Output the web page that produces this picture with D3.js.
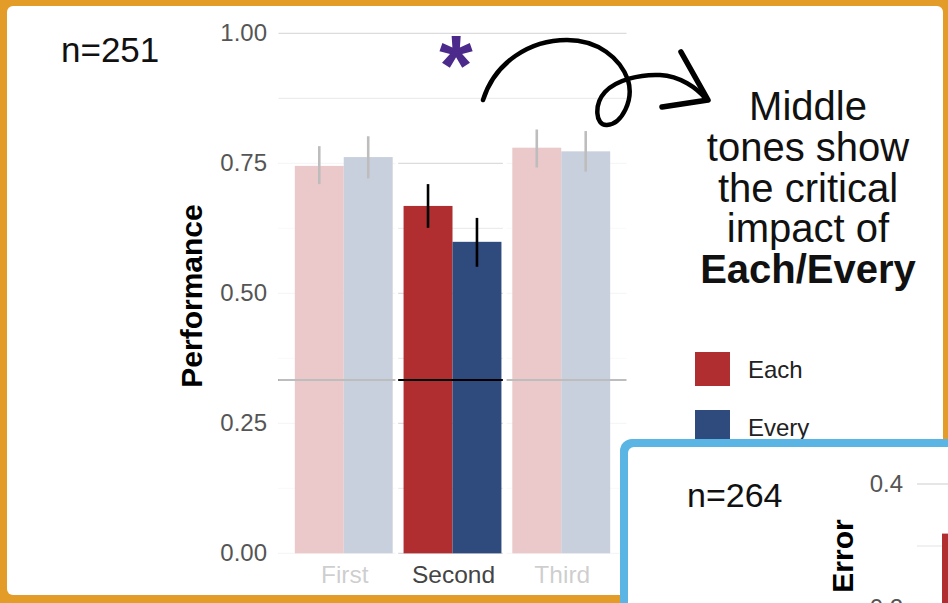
<!DOCTYPE html>
<html>
<head>
<meta charset="utf-8">
<script src="https://cdn.jsdelivr.net/npm/d3@7"></script>
<style>
  html, body { margin: 0; padding: 0; background: #fff; }
  svg { display: block; }
  text { font-family: "Liberation Sans", Arial, Helvetica, sans-serif; }
</style>
</head>
<body>
<svg id="chart" width="948" height="603"></svg>
<script>
// ---- data ----
const categories = ["First", "Second", "Third"];
const series = ["Each", "Every"];
const eachValues  = [0.745, 0.668, 0.780];
const everyValues = [0.762, 0.599, 0.773];
const eachLow   = [0.710, 0.626, 0.742];
const eachHigh  = [0.783, 0.710, 0.815];
const everyLow  = [0.721, 0.551, 0.734];
const everyHigh = [0.802, 0.645, 0.812];
const yTicks = [0, 0.25, 0.5, 0.75, 1];
const yMinorTicks = [0.125, 0.375, 0.625, 0.875];
const chanceLevel = 1 / 3;
const highlighted = "Second";
const sampleLabel = "n=251";
const noteLines = ["Middle", "tones show", "the critical", "impact of"];
const noteBold = "Each/Every";

// second study (partly visible panel)
const insetSampleLabel = "n=264";
const insetCategories = ["First"];
const insetEachValues = [0.32];
const insetTicks = [0.2, 0.4];
const insetMinorTicks = [0.3];

// ---- styling ----
const colors = { Each: "#b02d30", Every: "#2f4a7c" };
const orange = "#e49c28";
const blue = "#5ab4e4";
const gridMajor = "#dcdcdc";
const gridMinor = "#e8e8e8";
const tickColor = "#555555";

const svg = d3.select("#chart");

// frame
svg.append("rect").attr("width", 948).attr("height", 603).attr("fill", orange);
svg.append("rect").attr("x", 7).attr("y", 6).attr("width", 936).attr("height", 589)
  .attr("rx", 6).attr("fill", "#fff");

// ---- main panel scales ----
const panel = { left: 278.5, right: 626.5, top: 33.3, bottom: 553.3 };
const x = d3.scaleBand().domain(categories)
  .range([panel.left, panel.right]).paddingInner(0).paddingOuter(0.1);
const bw = x.bandwidth();
const xs = d3.scaleBand().domain(series).range([bw * 0.05, bw * 0.95]);
const y = d3.scaleLinear().domain([0, 1]).range([panel.bottom, panel.top]);

const rows = categories.map((c, i) => ({
  cat: c,
  values: [
    { s: "Each", v: eachValues[i], lo: eachLow[i], hi: eachHigh[i] },
    { s: "Every", v: everyValues[i], lo: everyLow[i], hi: everyHigh[i] }
  ]
}));

const g = svg.append("g");

// gridlines
g.selectAll("line.minor").data(yMinorTicks).join("line")
  .attr("x1", panel.left).attr("x2", panel.right)
  .attr("y1", d => y(d)).attr("y2", d => y(d))
  .attr("stroke", gridMinor).attr("stroke-width", 1);
g.selectAll("line.major").data(yTicks).join("line")
  .attr("x1", panel.left).attr("x2", panel.right)
  .attr("y1", d => y(d)).attr("y2", d => y(d))
  .attr("stroke", gridMajor).attr("stroke-width", 1.3);

// bars
const groups = g.selectAll("g.grp").data(rows).join("g")
  .attr("transform", d => `translate(${x(d.cat)},0)`);
groups.selectAll("rect").data(d => d.values).join("rect")
  .attr("x", d => xs(d.s)).attr("width", xs.bandwidth())
  .attr("y", d => y(d.v)).attr("height", d => y(0) - y(d.v))
  .attr("fill", d => colors[d.s]);

// error bars
groups.selectAll("line.err").data(d => d.values).join("line")
  .attr("x1", d => xs(d.s) + xs.bandwidth() / 2)
  .attr("x2", d => xs(d.s) + xs.bandwidth() / 2)
  .attr("y1", d => y(d.lo)).attr("y2", d => y(d.hi))
  .attr("stroke", "#000").attr("stroke-width", 2.6);

// chance level
g.append("line")
  .attr("x1", panel.left).attr("x2", panel.right)
  .attr("y1", y(chanceLevel)).attr("y2", y(chanceLevel))
  .attr("stroke", "#000").attr("stroke-width", 2);

// y axis labels
const yAxis = d3.axisLeft(y).tickValues(yTicks).tickFormat(d3.format(".2f")).tickSize(0).tickPadding(0);
const ya = svg.append("g").attr("transform", "translate(267,0)").call(yAxis);
ya.select(".domain").remove();
ya.selectAll("text").attr("font-size", 24).attr("fill", tickColor)
  .attr("font-family", '"Liberation Sans", Arial, sans-serif');

// x axis labels
const xAxis = d3.axisBottom(x).tickSize(0).tickPadding(0);
const xa = svg.append("g").attr("transform", "translate(1,566)").call(xAxis);
xa.select(".domain").remove();
xa.selectAll("text").attr("font-size", 24.5).attr("fill", "#444")
  .attr("font-family", '"Liberation Sans", Arial, sans-serif');

// y title
svg.append("text")
  .attr("transform", "translate(202,296) rotate(-90)")
  .attr("text-anchor", "middle")
  .attr("font-size", 30).attr("font-weight", "bold").attr("fill", "#000")
  .text("Performance");

// fade the groups around the highlighted one
const fadeTop = 128, fadeBottom = 595;
const hx = x(highlighted);
const fades = [
  [panel.left, hx - 3],
  [hx + bw, panel.right + 2]
];
svg.selectAll("rect.fade").data(fades).join("rect")
  .attr("x", d => d[0]).attr("width", d => d[1] - d[0])
  .attr("y", fadeTop).attr("height", fadeBottom - fadeTop)
  .attr("fill", "#fff").attr("fill-opacity", 0.74);
const gaps = [[hx - 3, hx], [hx + bw - 4, hx + bw]];
svg.selectAll("rect.gap").data(gaps).join("rect")
  .attr("x", d => d[0]).attr("width", d => d[1] - d[0])
  .attr("y", fadeTop).attr("height", fadeBottom - fadeTop)
  .attr("fill", "#fff");

// sample size
svg.append("text").attr("x", 61).attr("y", 62)
  .attr("font-size", 35).attr("fill", "#111").text(sampleLabel);

// significance marker
svg.append("text").attr("x", 456).attr("y", 95)
  .attr("text-anchor", "middle")
  .attr("font-family", "Inter, 'DejaVu Sans', sans-serif")
  .attr("font-size", 86).attr("font-weight", "bold").attr("fill", "#4b2a8c")
  .text("*");

// hand-drawn arrow
svg.append("path")
  .attr("d", "M483,100 C495,62 530,40 567,40 C598,40 620,58 628,80 C634,100 622,124 607,125 C595,126 594,104 605,92 C616,80 640,74 660,75 C680,76 697,88 706,99")
  .attr("fill", "none").attr("stroke", "#000").attr("stroke-width", 4.5)
  .attr("stroke-linecap", "round");
svg.append("path")
  .attr("d", "M681,52 L708,100 L662,107")
  .attr("fill", "none").attr("stroke", "#000").attr("stroke-width", 5.5)
  .attr("stroke-linecap", "round").attr("stroke-linejoin", "round");

// note
const note = svg.append("g").attr("text-anchor", "middle");
noteLines.forEach((t, i) => {
  note.append("text").attr("x", 808).attr("y", 120 + i * 40.8)
    .attr("font-size", 40).attr("fill", "#111").text(t);
});
note.append("text").attr("x", 808).attr("y", 283)
  .attr("font-size", 40).attr("font-weight", "bold").attr("fill", "#111").text(noteBold);

// legend
const legend = svg.append("g").attr("transform", "translate(695,352)");
series.forEach((s, i) => {
  legend.append("rect").attr("x", 0).attr("y", i * 58).attr("width", 35).attr("height", 34)
    .attr("fill", colors[s]);
  legend.append("text").attr("x", 53).attr("y", i * 58 + 26)
    .attr("font-size", 24).attr("fill", "#222").text(s);
});

// ---- second study panel (partly visible) ----
svg.append("rect").attr("x", 620).attr("y", 439).attr("width", 360).attr("height", 200)
  .attr("rx", 12).attr("fill", blue);
svg.append("rect").attr("x", 628).attr("y", 447).attr("width", 360).attr("height", 200)
  .attr("rx", 6).attr("fill", "#fff");

const iy = d3.scaleLinear().domain([0.2, 0.4]).range([608, 484]);
const ix = d3.scaleBand().domain(insetCategories).range([928, 1040]).paddingOuter(0.1);
const ixs = d3.scaleBand().domain(series).range([ix.bandwidth() * 0.05, ix.bandwidth() * 0.95]);

const ig = svg.append("g");
ig.selectAll("line.minor").data(insetMinorTicks).join("line")
  .attr("x1", 917).attr("x2", 948).attr("y1", d => iy(d)).attr("y2", d => iy(d))
  .attr("stroke", gridMinor).attr("stroke-width", 1.2);
ig.selectAll("line.major").data(insetTicks).join("line")
  .attr("x1", 917).attr("x2", 948).attr("y1", d => iy(d)).attr("y2", d => iy(d))
  .attr("stroke", gridMajor).attr("stroke-width", 1.4);
ig.selectAll("rect.bar").data(insetEachValues).join("rect")
  .attr("x", (d, i) => ix(insetCategories[i]) + ixs("Each"))
  .attr("width", ixs.bandwidth())
  .attr("y", d => iy(d)).attr("height", d => iy(0.2) + 200 - iy(d))
  .attr("fill", colors.Each);

const iAxis = d3.axisLeft(iy).tickValues(insetTicks).tickFormat(d3.format(".1f")).tickSize(0).tickPadding(0);
const ia = svg.append("g").attr("transform", "translate(903,0)").call(iAxis);
ia.select(".domain").remove();
ia.selectAll("text").attr("font-size", 24).attr("fill", tickColor)
  .attr("font-family", '"Liberation Sans", Arial, sans-serif');

svg.append("text")
  .attr("transform", "translate(853,556) rotate(-90)")
  .attr("text-anchor", "middle")
  .attr("font-size", 30).attr("font-weight", "bold").attr("fill", "#000")
  .text("Error");

svg.append("text").attr("x", 687).attr("y", 507)
  .attr("font-size", 34).attr("fill", "#111").text(insetSampleLabel);
</script>
</body>
</html>
